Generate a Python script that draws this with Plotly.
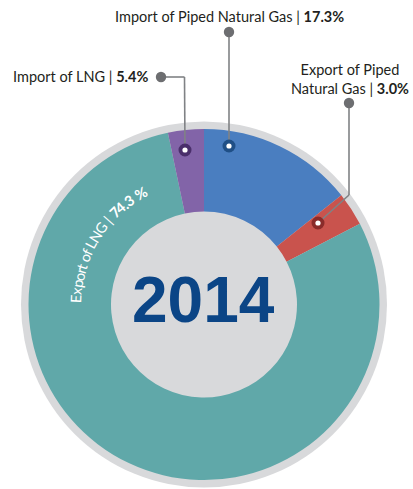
import math
import plotly.graph_objects as go

W, H = 413, 489

# ---- data ----
categories = ["Import of Piped Natural Gas", "Export of Piped Natural Gas", "Export of LNG", "Import of LNG"]
label_pct = [17.3, 3.0, 74.3, 5.4]          # percentages printed on the chart
slice_share = [14.3, 3.1, 79.3, 3.3]        # slice sizes as drawn in the picture
slice_colors = ["#4A7EC0", "#C9534D", "#60A8A9", "#8264A8"]
dot_colors = ["#1F4F86", "#8A2B2A", "#2F6E6F", "#4A2F6B"]
year = "2014"

# ---- geometry (pixels) ----
CX, CY = 204, 304.5
R_RING, R_PIE, R_HOLE = 183, 175.5, 93
GRAY = "#D8D9DB"
LINE = "#808285"
TXT = "#231F20"
LABEL_FS = 14.5


def px(x):
    return x / W


def py(y):
    return 1 - y / H


fig = go.Figure()

# outer gray disc (ring + centre)
fig.add_trace(go.Pie(
    values=[1], marker=dict(colors=[GRAY], line=dict(width=0)),
    textinfo="none", hoverinfo="skip", showlegend=False, sort=False,
    domain=dict(x=[px(CX - R_RING), px(CX + R_RING)], y=[py(CY + R_RING), py(CY - R_RING)]),
))

# coloured donut
fig.add_trace(go.Pie(
    labels=categories, values=slice_share, hole=R_HOLE / R_PIE,
    marker=dict(colors=slice_colors, line=dict(width=0)),
    textinfo="none", hoverinfo="label+value", showlegend=False, sort=False,
    direction="clockwise", rotation=0,
    domain=dict(x=[px(CX - R_PIE), px(CX + R_PIE)], y=[py(CY + R_PIE), py(CY - R_PIE)]),
))

shapes = []
annotations = []


def seg(x0, y0, x1, y1):
    shapes.append(dict(type="line", xref="paper", yref="paper",
                       x0=px(x0), y0=py(y0), x1=px(x1), y1=py(y1),
                       line=dict(color=LINE, width=1.6)))


def dot(x, y, r, color):
    shapes.append(dict(type="circle", xref="paper", yref="paper",
                       x0=px(x - r), x1=px(x + r), y0=py(y + r), y1=py(y - r),
                       fillcolor=color, line=dict(width=0)))


# leader lines
seg(229, 32, 229, 146)          # Import of Piped Natural Gas
seg(161, 77, 184.5, 77)         # Import of LNG
seg(184.5, 77, 185, 150)
seg(349, 103, 349, 195)         # Export of Piped Natural Gas
seg(349, 195, 318, 223)

# label end dots
for (x, y) in [(229, 32), (161, 77), (349, 103)]:
    dot(x, y, 5.2, "#6D6E71")

# slice dots
slice_dots = [(229, 146, 0), (318, 223, 1), (185, 150, 3)]
for x, y, i in slice_dots:
    dot(x, y, 6.5, dot_colors[i])
    dot(x, y, 2.6, "white")

font = dict(family="Lato, 'Open Sans', sans-serif", size=LABEL_FS, color=TXT)

annotations.append(dict(
    xref="paper", yref="paper", x=px(229), y=py(17), xanchor="center", yanchor="middle",
    text=f"{categories[0]} | <b>{label_pct[0]}%</b>", showarrow=False, font=font))
annotations.append(dict(
    xref="paper", yref="paper", x=px(80), y=py(76), xanchor="center", yanchor="middle",
    text=f"{categories[3]} | <b>{label_pct[3]}%</b>", showarrow=False, font=font))
annotations.append(dict(
    xref="paper", yref="paper", x=px(350), y=py(79), xanchor="center", yanchor="middle",
    text=f"Export of Piped<br>Natural Gas | <b>{label_pct[1]:.1f}%</b>", showarrow=False,
    font=font, align="center"))

# centre year
annotations.append(dict(
    xref="paper", yref="paper", x=px(203.5), y=py(300), xanchor="center", yanchor="middle",
    text=f"<b>{year}</b>", showarrow=False,
    font=dict(family="Liberation Sans, Arial, sans-serif", size=64, color="#0B4586")))

# curved label on the teal slice
arc_parts = [("Export of LNG | ", False), (f"{label_pct[2]} %", True)]
widths = {"E": 667, "x": 500, "p": 556, "o": 556, "r": 333, "t": 278, " ": 278, "f": 278,
          "L": 556, "N": 722, "G": 778, "|": 260, ".": 278, "%": 889}
FS = 14.5
R_TXT = 128
ARC_START, ARC_END = -89.5, -27.0
chars = []
for s, bold in arc_parts:
    for ch in s:
        chars.append((ch, bold, widths.get(ch, 556)))
total = sum(c[2] for c in chars)
span = math.radians(ARC_END - ARC_START)
theta = math.radians(ARC_START)
for ch, bold, w in chars:
    dw = w / total * span
    tc = theta + dw / 2
    if ch != " ":
        x = CX + R_TXT * math.sin(tc)
        y = CY - R_TXT * math.cos(tc)
        annotations.append(dict(
            xref="paper", yref="paper", x=px(x), y=py(y), xanchor="center", yanchor="middle",
            text=f"<b>{ch}</b>" if bold else ch, showarrow=False, textangle=math.degrees(tc),
            font=dict(family="Lato, 'Open Sans', sans-serif", size=FS, color="white")))
    theta += dw

fig.update_layout(
    width=W, height=H, margin=dict(l=0, r=0, t=0, b=0),
    paper_bgcolor="white", plot_bgcolor="white",
    shapes=shapes, annotations=annotations, showlegend=False,
)

fig.write_html("out.html", config={"displayModeBar": False},
               post_script="document.body.style.margin='0';")
